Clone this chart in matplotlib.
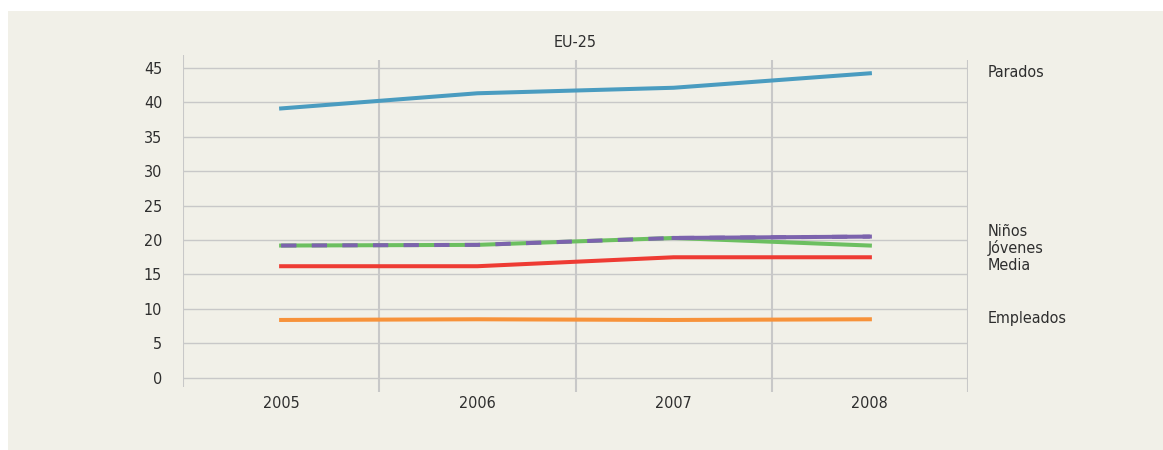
import matplotlib.pyplot as plt
from matplotlib.patches import Rectangle

years = ['2005', '2006', '2007', '2008']
parados = [39.1, 41.3, 42.1, 44.2]
ninos = [19.2, 19.3, 20.3, 20.5]
jovenes = [19.2, 19.3, 20.3, 19.2]
media = [16.2, 16.2, 17.5, 17.5]
empleados = [8.4, 8.5, 8.4, 8.5]

labels = ['Parados', 'Niños', 'Jóvenes', 'Media', 'Empleados']
label_y = [44.3, 21.3, 18.8, 16.3, 8.6]

plt.rcParams['font.family'] = ['DejaVu Sans']
plt.rcParams['font.stretch'] = 'condensed'
txt_color = '#2e2e2e'
grid_color = '#c8c8c8'

fig = plt.figure(figsize=(11.63, 4.5), dpi=100)
fig.patch.set_facecolor('white')
# fondo beige del recuadro
fig.patches.append(Rectangle((8 / 1163, 0), 1 - 8 / 1163, 1 - 11 / 450,
                             transform=fig.transFigure, facecolor='#f1f0e8',
                             edgecolor='none', zorder=-10))

ax = fig.add_axes([183 / 1163, (450 - 393) / 450, (968 - 183) / 1163, (393 - 54) / 450])
ax.set_zorder(1)
ax.set_facecolor('none')
for s in ax.spines.values():
    s.set_visible(False)

ax.set_xlim(-0.5, 3.5)
ax.set_ylim(-2.2, 47)

# rejilla
for v in range(0, 50, 5):
    ax.axhline(v, color=grid_color, linewidth=1, zorder=1)
ax.vlines([0.5, 1.5, 2.5, 3.5], -2.0, 46.1, color=grid_color, linewidth=1.5, zorder=1)
ax.vlines([-0.5], -1.3, 46.9, color=grid_color, linewidth=1.5, zorder=1)

x = range(len(years))
lw = 2.9
ax.plot(x, parados, color='#4a9cc0', linewidth=lw, zorder=3)
ax.plot(x, empleados, color='#f7923a', linewidth=lw, zorder=3)
ax.plot(x, media, color='#ee3b33', linewidth=lw, zorder=3)
ax.plot(x, jovenes, color='#6cbf60', linewidth=lw, zorder=3)
ax.plot(x, ninos, color='#7c63ad', linewidth=lw, zorder=4, linestyle=(0, (3.8, 3.8)))
ax.plot(x[2:], ninos[2:], color='#7c63ad', linewidth=lw, zorder=4)

ax.set_yticks(range(0, 50, 5))
ax.set_xticks(list(x))
ax.set_xticklabels(years)
ax.tick_params(axis='y', length=0, pad=15, labelsize=11.5, labelcolor=txt_color)
ax.tick_params(axis='x', length=0, pad=2, labelsize=11.5, labelcolor=txt_color)

for lab, yv in zip(labels, label_y):
    ax.text(3.6, yv, lab, fontsize=11.5, color=txt_color, va='center', ha='left', clip_on=False)

ax.set_title('EU-25', fontsize=11.5, color=txt_color, pad=5)

fig.savefig('out.png', dpi=100)
